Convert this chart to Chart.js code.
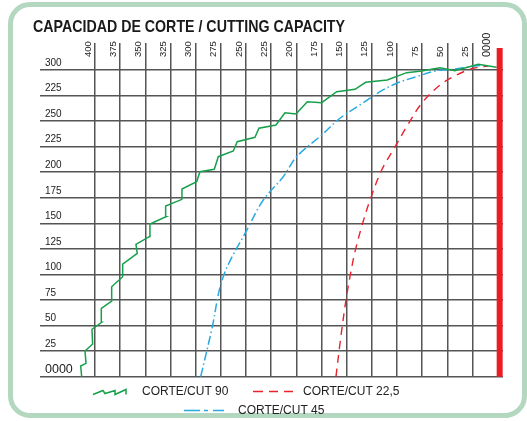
<!DOCTYPE html>
<html>
<head>
<meta charset="utf-8">
<script src="https://cdn.jsdelivr.net/npm/chart.js@4.4.1/dist/chart.umd.min.js"></script>
<style>
  html, body { margin: 0; padding: 0; background: #fff; }
  #wrap { position: relative; width: 527px; height: 421px; overflow: hidden; }
  #frame { position: absolute; left: 8px; top: 2px; width: 519px; height: 416px; box-sizing: border-box;
           border: 5px solid #b4d7c0; border-radius: 22px; }
  canvas { position: absolute; left: 0; top: 0; }
</style>
</head>
<body>
<div id="wrap"><div id="frame"></div><canvas id="chart" width="527" height="421"></canvas></div>
<script>
// Axis ticks and their printed labels (the 275 line is printed "225" in the original)
const xTicks = [0, 25, 50, 75, 100, 125, 150, 175, 200, 225, 250, 275, 300, 325, 350, 375, 400];
const xTickLabels = ['0000', '25', '50', '75', '100', '125', '150', '175', '200', '225', '250', '275', '300', '325', '350', '375', '400'];
const yTicks = [0, 25, 50, 75, 100, 125, 150, 175, 200, 225, 250, 275, 300];
const yTickLabels = ['0000', '25', '50', '75', '100', '125', '150', '175', '200', '225', '250', '225', '300'];

// CORTE/CUT 90 (stepped green line)
const cut90X = [413.2, 414.2, 408.9, 409.9, 402.3, 403, 393.3, 393.7, 383.4, 383.4, 372.5, 372.5, 358, 359.3,
  346.1, 345.4, 329.5, 329.8, 313.6, 313.6, 299, 295.7, 281.5, 277.5, 262.6, 258.7, 241.1, 237.1, 220.2, 211.3,
  200.3, 189.1, 174.8, 159.9, 141.7, 131.1, 109.7, 90.4, 75.5, 57.3, 42.4, 19.3, 1];
const cut90Y = [0, 10.5, 13.1, 25.1, 32, 46.4, 53.2, 66.9, 74, 88, 97.8, 110, 120.7, 129.5,
  137, 149.4, 156.5, 167, 173.5, 183.6, 190.7, 200.5, 202.9, 215.2, 220.8, 229.9, 234.2, 243, 246.2, 258.2,
  257, 269, 268, 278.8, 281.1, 288, 290.2, 297.4, 299, 302.3, 299.3, 305.6, 302.6];

// CORTE/CUT 45 (blue dash-dot)
const cut45X = [295, 284.1, 272.6, 247.7, 232.8, 213, 199.7, 174.8, 156.6, 136.8, 116.9, 100.3, 80.5, 60.6, 44.1, 27.5, 14.3];
const cut45Y = [0, 45.7, 97.8, 146.1, 172.8, 195.6, 215.2, 236.4, 252.8, 265.8, 278.8, 287, 293.5, 299.3, 300.7, 303.2, 304.9];

// CORTE/CUT 22,5 (red dashed)
const cut225X = [160.6, 156.6, 150.7, 146.7, 141.7, 135.1, 126.8, 115.2, 103.7, 90.4, 75.5, 57.3, 40.7, 24.2, 9.6];
const cut225Y = [0, 32.7, 75, 97.8, 122.3, 146.7, 172.8, 202.2, 221.8, 244.5, 267.4, 285.3, 295.1, 301.7, 303.9];

// red blade bar at the zero end
const bladeX = [-2, -2];
const bladeY = [0, 321.5];

const TITLE = 'CAPACIDAD DE CORTE / CUTTING CAPACITY';
const GRID = '#555555';
const TEXT = '#222222';
const FONT = '"Liberation Sans", Arial, sans-serif';

const pts = (xs, ys) => xs.map((x, i) => ({ x, y: ys[i] }));

// Condensed bold title (no narrow font installed, so squeeze a regular bold one)
const condensedTitle = {
  id: 'condensedTitle',
  afterDraw(chart) {
    const ctx = chart.ctx;
    ctx.save();
    ctx.font = 'bold 16.5px ' + FONT;
    ctx.fillStyle = '#1a1a1a';
    ctx.textBaseline = 'alphabetic';
    const w = ctx.measureText(TITLE).width;
    ctx.translate(33, 32);
    ctx.scale(312 / w, 1);
    ctx.fillText(TITLE, 0, 0);
    ctx.restore();
  }
};

// Hand-drawn legend: green zigzag, red dashes, blue dash-dot
const cutLegend = {
  id: 'cutLegend',
  afterDraw(chart) {
    const ctx = chart.ctx;
    const ds = chart.data.datasets;
    const items = [
      { i: 1, sx: 93, tx: 142, y: 391.5, kind: 'zigzag' },
      { i: 3, sx: 253, tx: 303, y: 391.5, kind: 'dash' },
      { i: 2, sx: 184, tx: 238, y: 410.5, kind: 'dashdot' }
    ];
    ctx.save();
    items.forEach(it => {
      const d = ds[it.i];
      ctx.strokeStyle = d.borderColor;
      ctx.lineWidth = 1.5;
      ctx.beginPath();
      if (it.kind === 'zigzag') {
        const z = [[0, 3], [10, -1], [12, 2], [22, -1], [22, 3], [33, -2], [33, 3]];
        z.forEach(([dx, dy], k) => k ? ctx.lineTo(it.sx + dx, it.y + dy) : ctx.moveTo(it.sx + dx, it.y + dy));
      } else if (it.kind === 'dash') {
        [[0, 10], [16, 25], [31, 40]].forEach(([a, b]) => { ctx.moveTo(it.sx + a, it.y); ctx.lineTo(it.sx + b, it.y); });
      } else {
        [[0, 16], [20, 24], [29, 40]].forEach(([a, b]) => { ctx.moveTo(it.sx + a, it.y); ctx.lineTo(it.sx + b, it.y); });
      }
      ctx.stroke();
      ctx.fillStyle = TEXT;
      ctx.font = '12px ' + FONT;
      ctx.textBaseline = 'middle';
      ctx.textAlign = 'left';
      ctx.fillText(d.label, it.tx, it.y);
    });
    ctx.restore();
  }
};

new Chart(document.getElementById('chart'), {
  type: 'line',
  data: {
    datasets: [
      {
        label: 'blade', data: pts(bladeX, bladeY),
        borderColor: '#ec1c24', borderWidth: 6, borderCapStyle: 'butt', pointRadius: 0, clip: false
      },
      {
        label: 'CORTE/CUT 90', data: pts(cut90X, cut90Y),
        borderColor: '#17a04b', borderWidth: 1.5, pointRadius: 0, tension: 0, clip: false
      },
      {
        label: 'CORTE/CUT 45', data: pts(cut45X, cut45Y),
        borderColor: '#27aae1', borderWidth: 1.5, borderDash: [9, 3, 1.5, 3], pointRadius: 0, tension: 0.35, clip: false
      },
      {
        label: 'CORTE/CUT 22,5', data: pts(cut225X, cut225Y),
        borderColor: '#e8232d', borderWidth: 1.4, borderDash: [8, 6], pointRadius: 0, tension: 0.35, clip: false
      }
    ]
  },
  options: {
    responsive: false,
    animation: false,
    devicePixelRatio: 1,
    layout: { padding: { left: 33, right: 24, top: 25, bottom: 44.3 } },
    plugins: {
      legend: { display: false },
      tooltip: { enabled: false },
      title: { display: false }
    },
    scales: {
      x: {
        type: 'linear',
        position: 'top',
        reverse: true,
        min: -5.3,
        max: 454.6,
        afterBuildTicks: s => { s.ticks = xTicks.map(v => ({ value: v })); },
        afterFit: s => { s.height = 45; },
        border: { display: false },
        grid: {
          color: GRID,
          lineWidth: 1.5,
          tickLength: 27,
          tickColor: c => (c.tick && c.tick.value === 0 ? 'rgba(0,0,0,0)' : GRID)
        },
        ticks: {
          autoSkip: false,
          minRotation: 90,
          maxRotation: 90,
          padding: -14,
          labelOffset: 4.4,
          color: TEXT,
          font: c => (c.tick && c.tick.value === 0
            ? { family: FONT, size: 11, lineHeight: 1.35 }
            : { family: FONT, size: 9.5, lineHeight: 1.2 }),
          callback: v => xTickLabels[xTicks.indexOf(v)]
        }
      },
      y: {
        type: 'linear',
        min: 0,
        max: 300,
        afterBuildTicks: s => { s.ticks = yTicks.map(v => ({ value: v })); },
        afterFit: s => { s.width = 7; },
        border: { display: false },
        grid: { color: GRID, lineWidth: 1.5, drawTicks: false },
        ticks: {
          mirror: true,
          padding: 5,
          labelOffset: -7,
          color: TEXT,
          font: c => ({ family: FONT, size: c.tick && c.tick.value === 0 ? 12.5 : 10 }),
          callback: v => yTickLabels[yTicks.indexOf(v)]
        }
      }
    }
  },
  plugins: [condensedTitle, cutLegend]
});
</script>
</body>
</html>
